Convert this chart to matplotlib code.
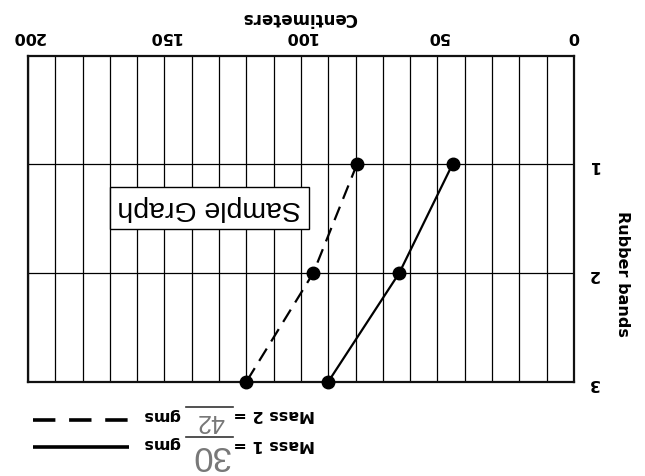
import numpy as np
import matplotlib
matplotlib.use("Agg")
import matplotlib.pyplot as plt
from matplotlib.lines import Line2D

# ---- data ----
bands = [1, 2, 3]
mass1_cm = [44.5, 64, 90]
mass2_cm = [79.5, 95.5, 120]
x_ticks = [0, 50, 100, 150, 200]
x_tick_labels = ["0", "50", "100", "150", "200"]
y_tick_labels = ["1", "2", "3"]
x_label = "Centimeters"
y_label = "Rubber bands"
title_box = "Sample Graph"
legend_labels = ["Mass 1 =", "Mass 2 ="]
legend_values = ["30", "42"]
legend_unit = "gms"

plt.rcParams["font.family"] = ["DejaVu Sans"]

W, H = 645, 476
fig = plt.figure(figsize=(W / 100, H / 100), dpi=100)


def fx(x):
    return x / W


def fy(y):
    return 1 - y / H


left, right, top, bottom = 28, 574, 55.5, 381.7
ax = fig.add_axes([fx(left), fy(bottom), fx(right) - fx(left), fy(top) - fy(bottom)])
ax.set_xlim(200, 0)
ax.set_ylim(3, 0)

ax.set_xticks(x_ticks)
ax.set_xticklabels(x_tick_labels, fontweight="bold")
ax.set_xticks(np.arange(0, 201, 10), minor=True)
ax.xaxis.tick_top()
ax.tick_params(axis="x", which="both", length=0, pad=8, labelsize=11.5, labelrotation=180)

ax.yaxis.tick_right()
ax.set_yticks(bands)
ax.set_yticklabels(y_tick_labels, fontweight="bold")
ax.tick_params(axis="y", length=0, pad=10, labelsize=11.5, labelrotation=180)

ax.grid(True, which="both", axis="x", color="black", lw=0.9)
ax.grid(True, which="major", axis="y", color="black", lw=0.9)
for s in ax.spines.values():
    s.set_linewidth(1.6)
    s.set_color("#111111")

ax.plot(mass1_cm, bands, color="black", lw=1.6, marker="o", ms=9,
        solid_capstyle="butt", clip_on=False, zorder=5)
ax.plot(mass2_cm, bands, color="black", lw=1.6, marker="o", ms=9,
        linestyle=(0, (6.5, 3.8)), clip_on=False, zorder=5)

ax.text(133.5, 1.4, title_box, rotation=180, ha="center", va="center",
        fontsize=20.5, family="Liberation Sans",
        bbox=dict(boxstyle="square,pad=0.28", fc="white", ec="black", lw=1.0))

fig.text(fx(299), fy(18), x_label, rotation=180, ha="center", va="center",
         fontsize=12, fontweight="bold")
fig.text(fx(622), fy(274), y_label, rotation=270, ha="center", va="center",
         fontsize=11.5, fontweight="bold")

# legend (upside down)
rows_y = [444, 415]
for i, (lab, val) in enumerate(zip(legend_labels, legend_values)):
    y = rows_y[i]
    fig.text(fx(315), fy(y), lab, rotation=180, ha="right", va="center",
             fontsize=11.5, fontweight="bold")
    fig.text(fx(180), fy(y), legend_unit, rotation=180, ha="right", va="center",
             fontsize=11.5, fontweight="bold")
    fs = 25 if i == 0 else 18
    vy = 456 if i == 0 else 421
    fig.text(fx(210), fy(vy), val, rotation=180, ha="center", va="center",
             fontsize=fs, color="#777777", family="Liberation Sans")
    oy = 437 if i == 0 else 407
    fig.add_artist(Line2D([fx(186), fx(233)], [fy(oy), fy(oy)], color="#333333", lw=1.2))
    ly = 447 if i == 0 else 420
    ls = "-" if i == 0 else (0, (6.2, 3.8))
    fig.add_artist(Line2D([fx(33), fx(129)], [fy(ly), fy(ly)], color="black", lw=2.6,
                          linestyle=ls, solid_capstyle="butt", dash_capstyle="butt"))

fig.savefig("out.png", dpi=100)
